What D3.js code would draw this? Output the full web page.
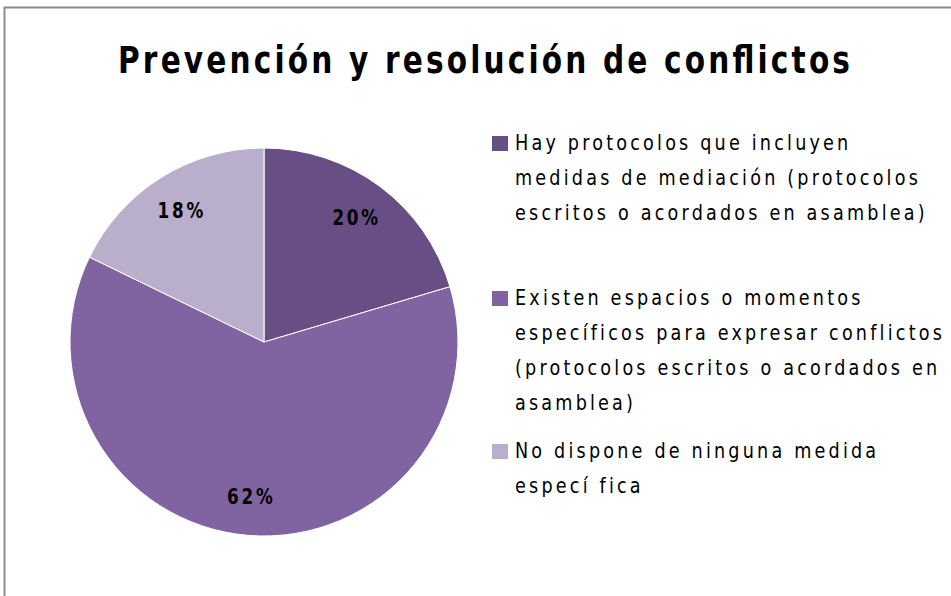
<!DOCTYPE html>
<html>
<head>
<meta charset="utf-8">
<script src="https://cdn.jsdelivr.net/npm/d3@7"></script>
<style>
  body { margin: 0; background: #fff; }
  svg { display: block; }
  text { font-family: 'DejaVu Sans', sans-serif; }
</style>
</head>
<body>
<svg id="chart"></svg>
<script>
// Data
const title = "Prevención y resolución de conflictos";
const categories = [
    "Hay protocolos que incluyen medidas de mediación (protocolos escritos o acordados en asamblea)",
    "Existen espacios o momentos específicos para expresar conflictos (protocolos escritos o acordados en asamblea)",
    "No dispone de ninguna medida específica"
];
const legendLines = [
    ["Hay protocolos que incluyen", "medidas de mediación (protocolos", "escritos o acordados en asamblea)"],
    ["Existen espacios o momentos", "específicos para expresar conflictos", "(protocolos escritos o acordados en", "asamblea)"],
    ["No dispone de ninguna medida", "especí fica"]
];
const values = [20.4, 61.8, 17.8];
const colors = ["#674f86", "#8064a2", "#b9aecb"];

const width = 951, height = 596;
const squeeze = 0.8; // narrow glyphs like the original condensed font
const svg = d3.select("#chart").attr("width", width).attr("height", height);

// Frame
svg.append("rect")
    .attr("x", 4.5).attr("y", 7.5)
    .attr("width", width + 10).attr("height", height + 10)
    .attr("fill", "none")
    .attr("stroke", "#8c8c8c")
    .attr("stroke-width", 2);

// Title
svg.append("text")
    .attr("transform", `translate(484, 73) scale(${squeeze}, 1)`)
    .attr("text-anchor", "middle")
    .style("font-weight", "bold")
    .style("font-size", "37px")
    .attr("textLength", 732 / squeeze)
    .attr("lengthAdjust", "spacing")
    .text(title);

// Pie
const cx = 264, cy = 342, radius = 194;
const pie = d3.pie().sort(null).value(d => d);
const arc = d3.arc().innerRadius(0).outerRadius(radius);
const labelArc = d3.arc().innerRadius(155).outerRadius(155);

const g = svg.append("g").attr("transform", `translate(${cx}, ${cy})`);
const arcs = pie(values);

g.selectAll("path")
    .data(arcs)
    .enter().append("path")
    .attr("d", arc)
    .attr("fill", (d, i) => colors[i])
    .attr("stroke", "#fff")
    .attr("stroke-width", 1);

g.selectAll(".pct")
    .data(arcs)
    .enter().append("text")
    .attr("class", "pct")
    .attr("transform", d => `translate(${labelArc.centroid(d)}) scale(${squeeze}, 1)`)
    .attr("text-anchor", "middle")
    .attr("dy", "0.35em")
    .style("font-weight", "bold")
    .style("font-size", "21px")
    .style("letter-spacing", "3.5px")
    .text(d => Math.round(d.data) + "%");

// Legend
const legendY = [150, 305, 458];
const lineH = 35;
const legend = svg.append("g").attr("class", "legend");

legendLines.forEach((lines, i) => {
    const item = legend.append("g").attr("transform", `translate(0, ${legendY[i]})`);
    item.append("rect")
        .attr("x", 492).attr("y", -14)
        .attr("width", 16).attr("height", 15)
        .attr("fill", colors[i]);
    item.selectAll("text")
        .data(lines)
        .enter().append("text")
        .attr("transform", (d, j) => `translate(515, ${j * lineH}) scale(${squeeze}, 1)`)
        .style("font-size", "22px")
        .style("letter-spacing", "4px")
        .attr("fill", "#000")
        .text(d => d);
});
</script>
</body>
</html>
